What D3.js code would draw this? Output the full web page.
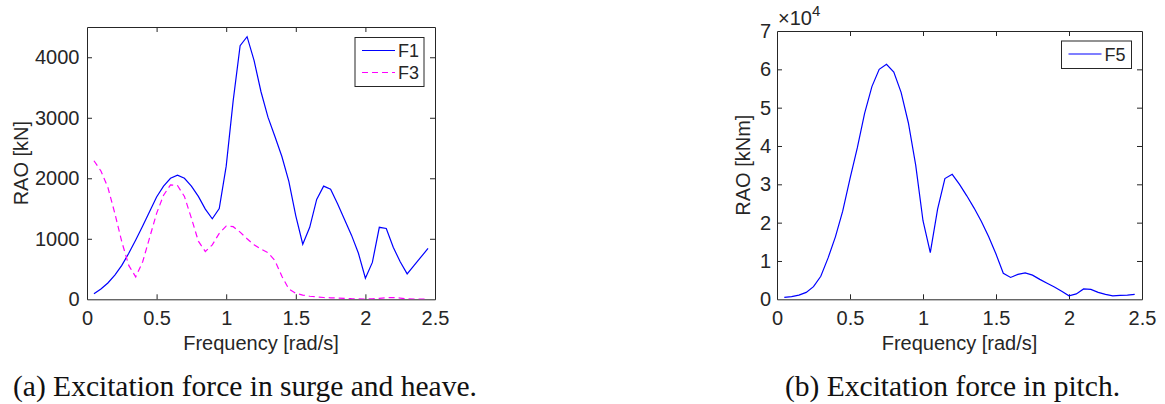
<!DOCTYPE html>
<html>
<head>
<meta charset="utf-8">
<script src="https://cdn.jsdelivr.net/npm/d3@7"></script>
<style>
  html, body { margin: 0; padding: 0; background: #fff; }
  svg { display: block; }
  .sans { font-family: "Liberation Sans", Arial, Helvetica, sans-serif; fill: #262626; }
  .cap { font-family: "Liberation Serif", "Times New Roman", serif; fill: #111; }
</style>
</head>
<body>
<svg id="chart" width="1165" height="404"></svg>
<script>
// ---------------- data ----------------
const freq = [0.05,0.10,0.15,0.20,0.25,0.30,0.35,0.40,0.45,0.50,0.55,0.60,0.65,0.70,0.75,0.80,0.85,0.90,0.95,1.00,
              1.05,1.10,1.15,1.20,1.25,1.30,1.35,1.40,1.45,1.50,1.55,1.60,1.65,1.70,1.75,1.80,1.85,1.90,1.95,2.00,
              2.05,2.10,2.15,2.20,2.25,2.30,2.35,2.40,2.45];
const F1 = [90,170,270,400,560,760,980,1210,1450,1690,1870,2000,2050,2000,1870,1700,1490,1330,1500,2200,
            3280,4190,4340,3950,3430,3010,2690,2360,1950,1380,910,1190,1650,1870,1820,1580,1320,1060,760,350,
            610,1190,1170,860,620,420,560,700,840];
const F3 = [2290,2120,1850,1420,950,560,370,620,1020,1420,1720,1890,1880,1700,1340,960,790,900,1090,1210,
            1200,1110,1000,900,830,770,640,380,170,100,70,50,40,30,25,20,15,10,8,5,
            8,15,25,30,20,8,5,3,3];
const F5 = [500,700,1100,1800,3300,6000,10800,16300,23000,31500,39500,48500,55500,60000,61300,59300,54000,46000,35000,20500,
            12200,23500,31500,32600,30000,27000,23800,20300,16300,11800,6800,5700,6500,6900,6300,5200,4200,3200,2100,900,
            1400,2700,2600,1800,1300,900,1000,1100,1300];

const xTicks = [0, 0.5, 1, 1.5, 2, 2.5];
const xTickLabels = ["0", "0.5", "1", "1.5", "2", "2.5"];
const yTicksA = [0, 1000, 2000, 3000, 4000];
const yTickLabelsA = ["0", "1000", "2000", "3000", "4000"];
const yTicksB = [0, 10000, 20000, 30000, 40000, 50000, 60000, 70000];
const yTickLabelsB = ["0", "1", "2", "3", "4", "5", "6", "7"];

const xLabel = "Frequency [rad/s]";
const yLabelA = "RAO [kN]";
const yLabelB = "RAO [kNm]";
const captionA = "(a) Excitation force in surge and heave.";
const captionB = "(b) Excitation force in pitch.";

// ---------------- drawing ----------------
const svg = d3.select("#chart");
const AX = "#262626";

function panel(cfg) {
  const g = svg.append("g");
  const x = d3.scaleLinear().domain([0, 2.5]).range([cfg.left, cfg.right]);
  const y = d3.scaleLinear().domain(cfg.yDomain).range([cfg.bottom, cfg.top]);

  // axes (ticks inward, box on)
  const fmtX = d => xTickLabels[xTicks.indexOf(d)];
  const fmtY = d => cfg.yLabels[cfg.yTicks.indexOf(d)];
  const bottomAx = g.append("g").attr("transform", `translate(0,${cfg.bottom})`)
    .call(d3.axisBottom(x).tickValues(xTicks).tickFormat(fmtX).tickSizeInner(-5).tickSizeOuter(0).tickPadding(11.5));
  const topAx = g.append("g").attr("transform", `translate(0,${cfg.top})`)
    .call(d3.axisTop(x).tickValues(xTicks).tickFormat("").tickSizeInner(-5).tickSizeOuter(0));
  const leftAx = g.append("g").attr("transform", `translate(${cfg.left},0)`)
    .call(d3.axisLeft(y).tickValues(cfg.yTicks).tickFormat(fmtY).tickSizeInner(-5).tickSizeOuter(0).tickPadding(cfg.yPad));
  const rightAx = g.append("g").attr("transform", `translate(${cfg.right},0)`)
    .call(d3.axisRight(y).tickValues(cfg.yTicks).tickFormat("").tickSizeInner(-5).tickSizeOuter(0));
  [bottomAx, topAx, leftAx, rightAx].forEach(a => {
    a.select(".domain").attr("stroke", AX).attr("stroke-width", 1);
    a.selectAll(".tick line").attr("stroke", AX).attr("stroke-width", 1);
    a.selectAll(".tick text").attr("class", "sans").attr("fill", AX)
      .style("font-size", "20px").style("font-family", '"Liberation Sans", Arial, sans-serif');
  });
  // hide ticks at the box corners (drawn by the box)
  [bottomAx, topAx].forEach(a => a.selectAll(".tick").filter(d => d === 0 || d === 2.5).select("line").remove());
  [leftAx, rightAx].forEach(a => a.selectAll(".tick").filter(d => d === cfg.yDomain[0] || d === cfg.yDomain[1]).select("line").remove());

  // series
  const clipId = "clip" + cfg.id;
  svg.append("clipPath").attr("id", clipId).append("rect")
    .attr("x", cfg.left).attr("y", cfg.top).attr("width", cfg.right - cfg.left).attr("height", cfg.bottom - cfg.top);
  cfg.series.forEach(s => {
    const line = d3.line().x((d, i) => x(freq[i])).y(d => y(d));
    g.append("path").datum(s.values)
      .attr("d", line)
      .attr("fill", "none")
      .attr("stroke", s.color)
      .attr("stroke-width", 1.2)
      .attr("stroke-dasharray", s.dash || null)
      .attr("clip-path", `url(#${clipId})`);
  });

  // axis labels
  g.append("text").attr("class", "sans")
    .attr("x", (cfg.left + cfg.right) / 2).attr("y", 349.5)
    .attr("text-anchor", "middle").style("font-size", "20px").text(xLabel);
  g.append("text").attr("class", "sans")
    .attr("transform", `translate(${cfg.yLabelX},${(cfg.top + cfg.bottom) / 2 + cfg.yLabelDy}) rotate(-90)`)
    .attr("text-anchor", "middle").style("font-size", "20px").text(cfg.yLabel);

  // legend
  const L = cfg.legend;
  g.append("rect").attr("x", L.x).attr("y", L.y).attr("width", L.w).attr("height", L.h)
    .attr("fill", "#fff").attr("stroke", AX).attr("stroke-width", 1);
  cfg.series.forEach((s, i) => {
    const ly = L.y + 13 + i * 22;
    g.append("line").attr("x1", L.x + 7).attr("x2", L.x + 40).attr("y1", ly).attr("y2", ly)
      .attr("stroke", s.color).attr("stroke-width", 1.2).attr("stroke-dasharray", s.dash || null);
    g.append("text").attr("class", "sans").attr("x", L.x + 43).attr("y", ly + 6.5)
      .style("font-size", "18px").attr("fill", "#000").text(s.name);
  });

  // caption
  g.append("text").attr("class", "cap").attr("x", cfg.capX).attr("y", 396)
    .style("font-size", "29.5px").text(cfg.caption);
  return {x, y, g};
}

panel({
  id: "A", left: 87, right: 435, top: 27, bottom: 299.3,
  yDomain: [0, 4500], yTicks: yTicksA, yLabels: yTickLabelsA, yPad: 7.5,
  yLabel: yLabelA, yLabelX: 28, yLabelDy: 0,
  series: [
    {name: "F1", values: F1, color: "#0000ff"},
    {name: "F3", values: F3, color: "#ff00ff", dash: "6,4"}
  ],
  legend: {x: 355, y: 37.5, w: 69, h: 49},
  caption: captionA, capX: 13
});

const pB = panel({
  id: "B", left: 777, right: 1142, top: 31, bottom: 299.3,
  yDomain: [0, 70000], yTicks: yTicksB, yLabels: yTickLabelsB, yPad: 6,
  yLabel: yLabelB, yLabelX: 750, yLabelDy: 0,
  series: [
    {name: "F5", values: F5, color: "#0000ff"}
  ],
  legend: {x: 1061.5, y: 41, w: 70, h: 27.5},
  caption: captionB, capX: 785
});

// exponent label x10^4
const ex = pB.g.append("text").attr("class", "sans").attr("x", 778).attr("y", 25).style("font-size", "20px");
ex.append("tspan").text("\u00d710");
ex.append("tspan").attr("dy", -9).style("font-size", "15px").text("4");
</script>
</body>
</html>
